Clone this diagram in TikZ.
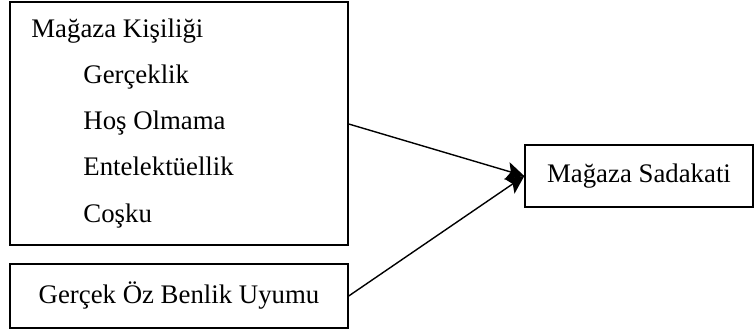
\documentclass[tikz,border=0pt]{standalone}
\usepackage{fontspec}
\setmainfont{Liberation Serif}
\usetikzlibrary{positioning,arrows.meta}

\begin{document}
\begin{tikzpicture}[
  x=0.5pt, y=-0.5pt,
  >={Stealth[length=9pt,width=9pt,inset=2pt]},   % set default arrow tip
  box/.style={rectangle, draw, line width=0.7pt, inner sep=0pt},
  item/.style={anchor=base west, inner sep=0pt, font=\fontsize{13.4}{16}\selectfont}
]
\useasboundingbox (0,0) rectangle (754,331);
% Nodes
\node[box, minimum width=169pt, minimum height=121.5pt] (kisilik) at (179,123.5) {};
\node[item] (baslik) at (31,38)  {Mağaza Kişiliği};
\node[item] (gercek) at (83,84)  {Gerçeklik};
\node[item] (hos)    at (83,130) {Hoş Olmama};
\node[item] (entel)  at (83,176) {Entelektüellik};
\node[item] (cosku)  at (83,222) {Coşku};
\node[box, minimum width=169pt, minimum height=32pt, font=\fontsize{13.4}{16}\selectfont] (uyum) at (179,296) {Gerçek Öz Benlik Uyumu};
\node[box, minimum width=114pt, minimum height=31pt, font=\fontsize{13.4}{16}\selectfont] (sadakat) at (639,176) {Mağaza Sadakati};

% Edges
\draw[->, line width=0.7pt] (kisilik.east |- 0,124) -- (sadakat.west);
\draw[->, line width=0.7pt] (uyum.east) -- (sadakat.west);
\end{tikzpicture}
\end{document}
